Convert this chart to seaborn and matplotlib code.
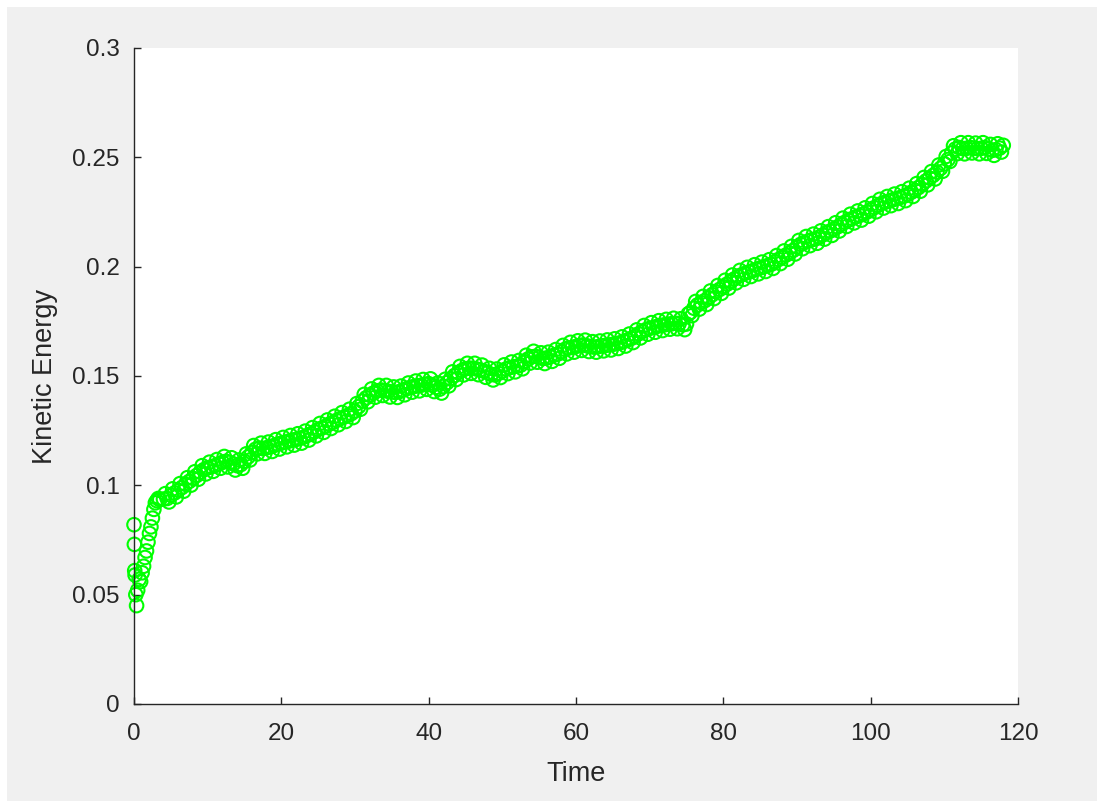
"""
Kinetic energy over time, drawn as open green circles (MATLAB look).
"""

import numpy as np
import pandas as pd
import matplotlib
matplotlib.use("Agg")
import matplotlib.pyplot as plt
from matplotlib.patches import Rectangle
import seaborn as sns

# early transient, irregular sampling
time_start = [0.0, 0.05, 0.1, 0.15, 0.25, 0.35, 0.5, 0.7, 0.9, 1.1, 1.3,
              1.5, 1.7, 1.9, 2.1, 2.3, 2.5, 2.7, 2.9, 3.1, 3.3]
ke_start = [0.082, 0.073, 0.061, 0.059, 0.050, 0.045, 0.052, 0.057, 0.056,
            0.060, 0.063, 0.067, 0.070, 0.074, 0.078, 0.081, 0.085, 0.089,
            0.092, 0.093, 0.094]

# middle of the noisy band, read every 0.5 time units from t = 3.5 to 118
time_main = np.arange(3.5, 118.01, 0.5)
ke_main = [
    0.0935,
    0.0937, 0.0940, 0.0955, 0.0965, 0.0978, 0.0990, 0.1005, 0.1018, 0.1032, 0.1045,
    0.1060, 0.1072, 0.1080, 0.1085, 0.1090, 0.1098, 0.1105, 0.1110, 0.1105, 0.1098,
    0.1090, 0.1095, 0.1110, 0.1130, 0.1150, 0.1165, 0.1170, 0.1168, 0.1172, 0.1176,
    0.1182, 0.1188, 0.1193, 0.1197, 0.1202, 0.1207, 0.1210, 0.1214, 0.1220, 0.1228,
    0.1235, 0.1245, 0.1255, 0.1262, 0.1270, 0.1280, 0.1288, 0.1297, 0.1305, 0.1312,
    0.1320, 0.1328, 0.1340, 0.1360, 0.1385, 0.1400, 0.1412, 0.1422, 0.1432, 0.1436,
    0.1434, 0.1430, 0.1427, 0.1425, 0.1428, 0.1435, 0.1442, 0.1448, 0.1452, 0.1455,
    0.1458, 0.1462, 0.1465, 0.1458, 0.1448, 0.1440, 0.1452, 0.1470, 0.1488, 0.1502,
    0.1515, 0.1525, 0.1533, 0.1536, 0.1535, 0.1532, 0.1528, 0.1522, 0.1515, 0.1507,
    0.1505, 0.1512, 0.1522, 0.1532, 0.1538, 0.1542, 0.1545, 0.1550, 0.1565, 0.1578,
    0.1588, 0.1590, 0.1585, 0.1580, 0.1582, 0.1588, 0.1595, 0.1600, 0.1610, 0.1622,
    0.1628, 0.1631, 0.1635, 0.1640, 0.1642, 0.1638, 0.1634, 0.1632, 0.1634, 0.1638,
    0.1640, 0.1642, 0.1645, 0.1648, 0.1652, 0.1658, 0.1665, 0.1672, 0.1682, 0.1693,
    0.1703, 0.1712, 0.1718, 0.1722, 0.1727, 0.1731, 0.1734, 0.1737, 0.1739, 0.1741,
    0.1740, 0.1734, 0.1738, 0.1790, 0.1810, 0.1825, 0.1835, 0.1845, 0.1858, 0.1872,
    0.1885, 0.1896, 0.1908, 0.1920, 0.1932, 0.1944, 0.1955, 0.1963, 0.1970, 0.1976,
    0.1982, 0.1988, 0.1994, 0.2000, 0.2005, 0.2011, 0.2022, 0.2033, 0.2043, 0.2053,
    0.2063, 0.2075, 0.2090, 0.2102, 0.2110, 0.2117, 0.2123, 0.2127, 0.2135, 0.2145,
    0.2155, 0.2163, 0.2172, 0.2182, 0.2193, 0.2203, 0.2213, 0.2220, 0.2228, 0.2234,
    0.2241, 0.2250, 0.2260, 0.2270, 0.2280, 0.2289, 0.2295, 0.2300, 0.2306, 0.2311,
    0.2316, 0.2322, 0.2330, 0.2340, 0.2350, 0.2362, 0.2376, 0.2392, 0.2405, 0.2418,
    0.2432, 0.2450, 0.2470, 0.2490, 0.2520, 0.2538, 0.2545, 0.2540, 0.2541, 0.2545,
    0.2542, 0.2540, 0.2541, 0.2545, 0.2538, 0.2532, 0.2535, 0.2542, 0.2555,
]

# top and bottom rows of circles in the band, read every 1 time unit
time_high = np.arange(4.25, 117.3, 1.0)
ke_high = [
    0.0962, 0.0984, 0.1008, 0.1035, 0.1062, 0.1090, 0.1106, 0.1118, 0.1132, 0.1126,
    0.1116, 0.1144, 0.1182, 0.1193, 0.1198, 0.1209, 0.1219, 0.1228, 0.1236, 0.1248,
    0.1264, 0.1283, 0.1299, 0.1316, 0.1333, 0.1348, 0.1374, 0.1416, 0.1441, 0.1457,
    0.1457, 0.1450, 0.1454, 0.1468, 0.1477, 0.1484, 0.1487, 0.1468, 0.1485, 0.1519,
    0.1544, 0.1558, 0.1558, 0.1550, 0.1535, 0.1532, 0.1551, 0.1564, 0.1571, 0.1595,
    0.1613, 0.1606, 0.1609, 0.1621, 0.1640, 0.1654, 0.1661, 0.1664, 0.1657, 0.1660,
    0.1665, 0.1670, 0.1679, 0.1692, 0.1711, 0.1731, 0.1744, 0.1753, 0.1759, 0.1764,
    0.1762, 0.1784, 0.1841, 0.1864, 0.1889, 0.1914, 0.1938, 0.1962, 0.1983, 0.1997,
    0.2009, 0.2021, 0.2032, 0.2051, 0.2072, 0.2093, 0.2120, 0.2138, 0.2149, 0.2164,
    0.2183, 0.2201, 0.2222, 0.2240, 0.2255, 0.2269, 0.2289, 0.2308, 0.2321, 0.2332,
    0.2343, 0.2359, 0.2380, 0.2408, 0.2435, 0.2465, 0.2504, 0.2553, 0.2567, 0.2567,
    0.2565, 0.2567, 0.2559, 0.2562,
]
time_low = np.arange(4.75, 117.8, 1.0)
ke_low = [
    0.0924, 0.0947, 0.0973, 0.1001, 0.1028, 0.1052, 0.1064, 0.1078, 0.1084, 0.1070,
    0.1078, 0.1116, 0.1144, 0.1146, 0.1155, 0.1166, 0.1176, 0.1184, 0.1193, 0.1207,
    0.1226, 0.1242, 0.1260, 0.1277, 0.1292, 0.1310, 0.1348, 0.1382, 0.1403, 0.1411,
    0.1404, 0.1402, 0.1414, 0.1426, 0.1432, 0.1439, 0.1429, 0.1422, 0.1455, 0.1484,
    0.1505, 0.1512, 0.1506, 0.1494, 0.1482, 0.1493, 0.1511, 0.1519, 0.1533, 0.1559,
    0.1563, 0.1557, 0.1567, 0.1581, 0.1601, 0.1609, 0.1617, 0.1612, 0.1609, 0.1615,
    0.1619, 0.1626, 0.1637, 0.1653, 0.1674, 0.1691, 0.1700, 0.1708, 0.1714, 0.1716,
    0.1712, 0.1776, 0.1806, 0.1827, 0.1854, 0.1878, 0.1902, 0.1926, 0.1942, 0.1955,
    0.1967, 0.1978, 0.1992, 0.2014, 0.2034, 0.2058, 0.2082, 0.2096, 0.2107, 0.2126,
    0.2143, 0.2163, 0.2184, 0.2200, 0.2213, 0.2231, 0.2251, 0.2268, 0.2279, 0.2289,
    0.2302, 0.2321, 0.2345, 0.2374, 0.2401, 0.2436, 0.2481, 0.2517, 0.2516, 0.2520,
    0.2516, 0.2518, 0.2509, 0.2524,
]

x_ticks = [0, 20, 40, 60, 80, 100, 120]
y_ticks = [0, 0.05, 0.1, 0.15, 0.2, 0.25, 0.3]
y_tick_labels = ["0", "0.05", "0.1", "0.15", "0.2", "0.25", "0.3"]

df = pd.DataFrame({
    "Time": np.concatenate([time_start, time_main, time_high, time_low]),
    "Kinetic Energy": ke_start + ke_main + ke_high + ke_low,
})

sns.set_style("ticks")
plt.rcParams["font.family"] = ["Liberation Sans", "DejaVu Sans"]
ink = "#262626"

fig = plt.figure(figsize=(10.97, 8.01), dpi=100, facecolor="white")
# grey MATLAB window, with the thin white strip at top and left
fig.patches.append(Rectangle((7 / 1097, 0), 1 - 7 / 1097, 1 - 7 / 801,
                             transform=fig.transFigure, facecolor="#f0f0f0",
                             edgecolor="none", zorder=-10))
ax = fig.add_axes([134 / 1097, 97 / 801, 884 / 1097, 656 / 801])
ax.set_facecolor("white")

sns.scatterplot(data=df, x="Time", y="Kinetic Energy", ax=ax,
                marker="o", s=95, facecolors="none",
                edgecolor="#00ff00", linewidth=1.5, clip_on=False)

ax.set_xlim(0, 120)
ax.set_ylim(0, 0.3)
ax.set_xticks(x_ticks)
ax.set_yticks(y_ticks)
ax.set_yticklabels(y_tick_labels)
ax.tick_params(direction="in", length=5, width=1, colors=ink, labelsize=17.5)
ax.tick_params(axis="x", pad=13.5)
ax.tick_params(axis="y", pad=10.5)
ax.set_xlabel("Time", fontsize=19.5, color=ink, labelpad=12)
ax.set_ylabel("Kinetic Energy", fontsize=19.5, color=ink, labelpad=10)

for side in ["top", "right"]:
    ax.spines[side].set_visible(False)
for side in ["left", "bottom"]:
    ax.spines[side].set_color(ink)
    ax.spines[side].set_linewidth(1.0)

fig.savefig("out.png", dpi=100, facecolor=fig.get_facecolor())
